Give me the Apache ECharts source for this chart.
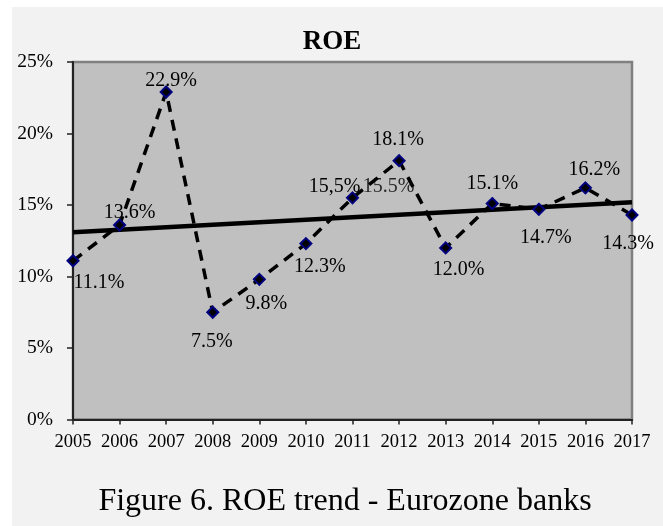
<!DOCTYPE html>
<html><head><meta charset="utf-8">
<script src="https://cdn.jsdelivr.net/npm/echarts@6/dist/echarts.min.js"></script>
<style>html,body{margin:0;padding:0;background:#fff;}#c{width:663px;height:526px;}</style>
</head><body><div id="c"></div>
<script>
// ---- data ----
const years = ['2005','2006','2007','2008','2009','2010','2011','2012','2013','2014','2015','2016','2017'];
const roe = [11.1, 13.6, 22.9, 7.5, 9.8, 12.3, 15.5, 18.1, 12.0, 15.1, 14.7, 16.2, 14.3];
const roeLabels = ['11.1%','13.6%','22.9%','7.5%','9.8%','12.3%','15,5%','18.1%','12.0%','15.1%','14.7%','16.2%','14.3%'];
const extraLabelYear = ['2011'];
const extraLabelValue = [15.5];
const extraLabelText = ['15.5%'];
const trendYears = ['2005', '2017'];
const trendValues = [13.1, 15.2];
const yMin = 0, yMax = 25, yStep = 5;
const titleText = 'ROE';
const captionText = 'Figure 6. ROE trend - Eurozone banks';

// ---- layout (label centre offsets from marker, px) ----
const labelOffsets = [[26,22],[10,-12],[5,-11],[-1,29],[7,24],[14,23],[-18,-11.5],[-1,-21],[13,22],[0,-20],[7,28],[9,-18],[-4,29]];
const extraOffset = [36,-11.5];

const FONT = '"Liberation Serif", "Times New Roman", serif';
const chart = echarts.init(document.getElementById('c'));
chart.setOption({
  backgroundColor: '#ffffff',
  animation: false,
  graphic: [{
    type: 'rect', z: -100, silent: true,
    shape: {x: 12, y: 7, width: 651, height: 519},
    style: {fill: '#f2f2f2'}
  }],
  title: [{
    text: titleText, left: 327, top: 24, textAlign: 'center',
    textStyle: {fontFamily: FONT, fontWeight: 'bold', fontSize: 27, color: '#000'}
  }, {
    text: captionText, left: 340, top: 481, textAlign: 'center',
    textStyle: {fontFamily: FONT, fontWeight: 'normal', fontSize: 32, color: '#000'}
  }],
  grid: {
    left: 73, right: 31, top: 62, bottom: 106.5,
    show: true, backgroundColor: '#c0c0c0', borderColor: '#808080', borderWidth: 2.5
  },
  xAxis: {
    type: 'category', data: years, boundaryGap: false,
    axisLine: {show: true, lineStyle: {color: '#222', width: 2}},
    axisTick: {show: true, inside: false, length: 5, interval: 0, lineStyle: {color: '#222', width: 1.5}},
    axisLabel: {fontFamily: FONT, fontSize: 18.5, color: '#000', margin: 13, interval: 0, hideOverlap: false},
    splitLine: {show: false}
  },
  yAxis: {
    type: 'value', min: yMin, max: yMax, interval: yStep,
    axisLine: {show: true, lineStyle: {color: '#222', width: 2}},
    axisTick: {show: true, inside: false, length: 6, lineStyle: {color: '#222', width: 1.5}},
    axisLabel: {fontFamily: FONT, fontSize: 19.5, color: '#000', margin: 20, formatter: '{value}%'},
    splitLine: {show: false}
  },
  series: [{
    name: 'Trend', type: 'line', z: 2,
    data: trendYears.map((y, i) => [y, trendValues[i]]),
    symbol: 'none',
    lineStyle: {color: '#000', width: 4.5, type: 'solid'},
    silent: true
  }, {
    name: 'ROE', type: 'line', z: 3,
    data: roe.map((v, i) => ({value: v, label: {offset: labelOffsets[i]}})),
    symbol: 'diamond', symbolSize: 11,
    itemStyle: {color: '#000', borderColor: '#000080', borderWidth: 2},
    lineStyle: {color: '#000', width: 3.5, type: [11, 8]},
    label: {
      show: true, position: 'inside', align: 'center', verticalAlign: 'middle',
      fontFamily: FONT, fontSize: 20, color: '#000',
      formatter: p => roeLabels[p.dataIndex]
    }
  }, {
    name: 'Extra', type: 'scatter', z: 4,
    data: extraLabelYear.map((y, i) => [y, extraLabelValue[i]]),
    symbolSize: 1, itemStyle: {color: 'transparent'},
    label: {
      show: true, position: 'inside', align: 'center', verticalAlign: 'middle',
      offset: extraOffset, fontFamily: FONT, fontSize: 20, color: '#000',
      formatter: p => extraLabelText[p.dataIndex]
    }
  }]
});
</script></body></html>
